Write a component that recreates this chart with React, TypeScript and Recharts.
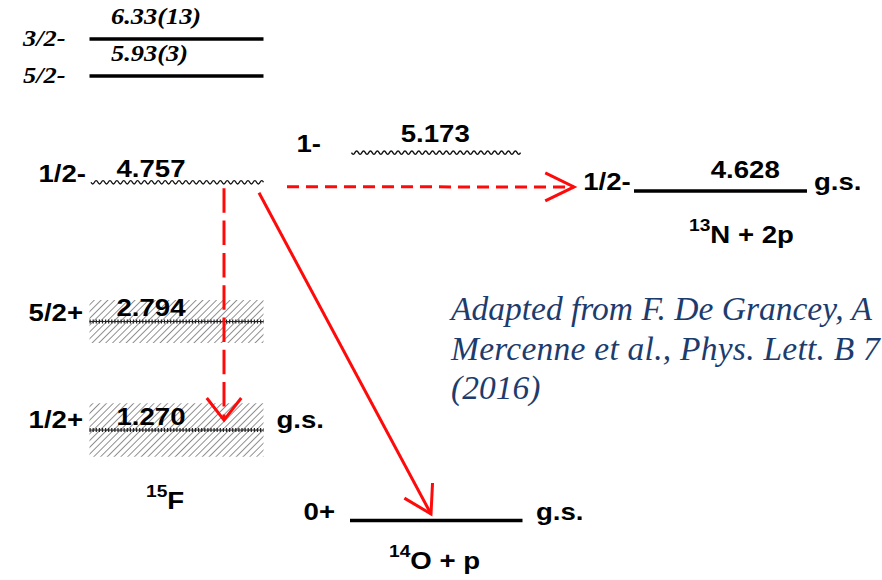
import React from "react";
import { ComposedChart, XAxis, YAxis, ReferenceLine, ReferenceArea, ReferenceDot } from "recharts";

// ---------------- data ----------------
// nuclear systems (columns of the level scheme)
const systemMass = ["15", "14", "13"];
const systemSymbol = ["F", "O", "N"];
const systemSuffix = ["", " + p", " + 2p"];

// levels (energies in MeV relative to the 14O + p threshold)
const levelSystem = [0, 0, 0, 0, 0, 1, 1, 2];
const levelSpin = ["3/2-", "5/2-", "1/2-", "5/2+", "1/2+", "1-", "0+", "1/2-"];
const levelEnergy = [6.33, 5.93, 4.757, 2.794, 1.27, 5.173, 0, 4.628];
const levelEnergyText = ["6.33(13)", "5.93(3)", "4.757", "2.794", "1.270", "5.173", "", "4.628"];
const levelWidth = [0, 0, 0, 0.301, 0.376, 0, 0, 0]; // Γ (MeV), drawn as hatched band E ± Γ
const levelGroundState = [false, false, false, false, true, false, true, true];

// decays from the 1/2- state of 15F
const transFrom = [2, 2, 2];
const transTo = [4, 6, 7];

const citationLines = [
  "Adapted from F. De Grancey, A",
  "Mercenne et al., Phys. Lett. B 7",
  "(2016)",
];

// ---------------- layout / style ----------------
const W = 882;
const H = 580;
const X_DOMAIN: [number, number] = [0, 882];
const Y_DOMAIN: [number, number] = [-0.836, 7.31];
const Y_DOMAIN_TOP: [number, number] = [0.4814, 6.7516];

const colSpan = [
  [89.5, 263.5],
  [350, 522.5],
  [634, 807],
];
const nameLayout = [
  { x: 146, anchor: 4, dy: 79 },
  { x: 389, anchor: 6, dy: 48.5 },
  { x: 689, anchor: 7, dy: 52 },
];

type LL = {
  axis: string;
  kind: string;
  serif?: boolean;
  spinGap: number;
  spinDy: number;
  valX: number;
  valDy: number;
  gsGap?: number;
};
const levelLayout: LL[] = [
  { axis: "top", kind: "solid", serif: true, spinGap: 24, spinDy: 7.5, valX: 21.5, valDy: -15 },
  { axis: "top", kind: "solid", serif: true, spinGap: 24, spinDy: 7, valX: 21.5, valDy: -14.5 },
  { axis: "main", kind: "wavy", spinGap: 3.5, spinDy: 0, valX: 27, valDy: -5 },
  { axis: "main", kind: "dotted", spinGap: 6.5, spinDy: -1, valX: 27, valDy: -6 },
  { axis: "main", kind: "dotted", spinGap: 6.5, spinDy: -2, valX: 27, valDy: -5, gsGap: 13 },
  { axis: "main", kind: "wavy", spinGap: 29, spinDy: -0.5, valX: 50.7, valDy: -10.6 },
  { axis: "main", kind: "solid", spinGap: 15, spinDy: -0.5, valX: 0, valDy: 0, gsGap: 13.5 },
  { axis: "main", kind: "solid", spinGap: 3.3, spinDy: -1, valX: 76.7, valDy: -13.2, gsGap: 7 },
];

const arrowLayout = [
  { x1: 224, x2: 224, dy1: 6.5, dy2: -10, dash: "24.5 7.8", head: 28, angle: 38 },
  { x1: 259, x2: 431, dy1: 11, dy2: -6.5, dash: undefined as string | undefined, head: 31, angle: 31 },
  { x1: 287, x2: 574, dy1: 5, dy2: -4, dash: "12 7", head: 32, angle: 26 },
];

const SANS = "'Liberation Sans', Arial, Helvetica, sans-serif";
const SERIF = "'Liberation Serif', 'Times New Roman', serif";
const RED = "#ff0a0a";

function StretchText(props: {
  x: number;
  y: number;
  anchor?: "start" | "end" | "middle";
  serif?: boolean;
  children: React.ReactNode;
}) {
  const { x, y, anchor = "start", serif, children } = props;
  return (
    <text
      transform={`translate(${x},${y}) scale(${serif ? 1.1 : 1.2},1)`}
      textAnchor={anchor}
      fontFamily={serif ? SERIF : SANS}
      fontWeight="bold"
      fontStyle={serif ? "italic" : "normal"}
      fontSize={serif ? 24 : 23}
      fill="#000"
    >
      {children}
    </text>
  );
}

function wavyPath(x1: number, x2: number, y: number, period = 6.9, amp = 1.7) {
  let d = `M${x1},${y}`;
  let x = x1;
  let up = false;
  while (x + period / 2 <= x2 + 0.01) {
    const cx = x + period / 4;
    const ex = x + period / 2;
    d += ` Q${cx},${y + (up ? -2 * amp : 2 * amp)} ${ex},${y}`;
    x = ex;
    up = !up;
  }
  return d;
}

function LevelShape(p: any) {
  const idx: number = p.idx;
  const { x1, x2, y1 } = p;
  const lay = levelLayout[idx];
  let line: React.ReactNode;
  if (lay.kind === "solid") {
    line = <line x1={x1} x2={x2} y1={y1} y2={y1} stroke="#000" strokeWidth={3.6} />;
  } else if (lay.kind === "wavy") {
    line = (
      <path d={wavyPath(x1 + 1.5, x2, y1 + 0.5)} fill="none" stroke="#111" strokeWidth={1.4} />
    );
  } else {
    line = (
      <g>
        <line x1={x1} x2={x2} y1={y1} y2={y1} stroke="#222" strokeWidth={1} />
        <line x1={x1} x2={x2} y1={y1} y2={y1} stroke="#222" strokeWidth={4} strokeDasharray="1.2 1.9" />
      </g>
    );
  }
  return (
    <g>
      {line}
      <StretchText x={x1 - lay.spinGap} y={y1 + lay.spinDy} anchor="end" serif={lay.serif}>
        {levelSpin[idx]}
      </StretchText>
      {levelEnergyText[idx] ? (
        <StretchText x={x1 + lay.valX} y={y1 + lay.valDy} serif={lay.serif}>
          {levelEnergyText[idx]}
        </StretchText>
      ) : null}
      {levelGroundState[idx] && lay.gsGap !== undefined ? (
        <StretchText x={x2 + lay.gsGap} y={y1 + lay.spinDy}>
          g.s.
        </StretchText>
      ) : null}
    </g>
  );
}

function ArrowShape(p: any) {
  const t: number = p.t;
  const lay = arrowLayout[t];
  const ax = p.x1;
  const ay = p.y1 + lay.dy1;
  const bx = p.x2;
  const by = p.y2 + lay.dy2;
  const len = Math.hypot(bx - ax, by - ay);
  const ux = (ax - bx) / len;
  const uy = (ay - by) / len;
  const a = (lay.angle * Math.PI) / 180;
  const arm = (s: number) => {
    const c = Math.cos(s * a);
    const sn = Math.sin(s * a);
    return [bx + lay.head * (ux * c - uy * sn), by + lay.head * (ux * sn + uy * c)];
  };
  const [l1x, l1y] = arm(1);
  const [l2x, l2y] = arm(-1);
  return (
    <g>
      <line x1={ax} y1={ay} x2={bx} y2={by} stroke={RED} strokeWidth={3} strokeDasharray={lay.dash} />
      <path
        d={`M${l1x},${l1y} L${bx},${by} L${l2x},${l2y}`}
        fill="none"
        stroke={RED}
        strokeWidth={3}
        strokeLinejoin="miter"
      />
    </g>
  );
}

function NameShape(p: any) {
  const s: number = p.s;
  const lay = nameLayout[s];
  const x = p.cx;
  const y = p.cy + lay.dy;
  return (
    <text
      transform={`translate(${x},${y}) scale(1.2,1)`}
      fontFamily={SANS}
      fontWeight="bold"
      fontSize={23}
      fill="#000"
    >
      <tspan fontSize={16} dy={-12}>
        {systemMass[s]}
      </tspan>
      <tspan dy={12}>{systemSymbol[s] + systemSuffix[s]}</tspan>
    </text>
  );
}

export default function App() {
  return (
    <div style={{ width: W, height: H, background: "#fff" }}>
      <style>{"body{margin:0;background:#fff}"}</style>
      <ComposedChart width={W} height={H} margin={{ top: 0, right: 0, bottom: 0, left: 0 }} data={[]}>
        <defs>
          <pattern
            id="hatch"
            width={4.8}
            height={4.8}
            patternUnits="userSpaceOnUse"
            patternTransform="rotate(45)"
          >
            <line x1={0} y1={0} x2={0} y2={4.8} stroke="#222" strokeWidth={1} />
          </pattern>
        </defs>
        <XAxis type="number" dataKey="x" domain={X_DOMAIN} allowDataOverflow hide />
        <YAxis yAxisId="main" type="number" domain={Y_DOMAIN} allowDataOverflow hide />
        <YAxis yAxisId="top" type="number" domain={Y_DOMAIN_TOP} allowDataOverflow hide />

        {levelEnergy.map((e, i) =>
          levelWidth[i] > 0 ? (
            <ReferenceArea
              key={`band-${i}`}
              yAxisId={levelLayout[i].axis}
              x1={colSpan[levelSystem[i]][0]}
              x2={colSpan[levelSystem[i]][1]}
              y1={e - levelWidth[i]}
              y2={e + levelWidth[i]}
              fill="url(#hatch)"
              fillOpacity={1}
              stroke="none"
            />
          ) : null
        )}

        {levelEnergy.map((e, i) => (
          <ReferenceLine
            key={`lvl-${i}`}
            yAxisId={levelLayout[i].axis}
            segment={[
              { x: colSpan[levelSystem[i]][0], y: e },
              { x: colSpan[levelSystem[i]][1], y: e },
            ]}
            shape={(p: any) => <LevelShape {...p} idx={i} />}
          />
        ))}

        {transFrom.map((f, t) => (
          <ReferenceLine
            key={`tr-${t}`}
            yAxisId="main"
            segment={[
              { x: arrowLayout[t].x1, y: levelEnergy[f] },
              { x: arrowLayout[t].x2, y: levelEnergy[transTo[t]] },
            ]}
            shape={(p: any) => <ArrowShape {...p} t={t} />}
          />
        ))}

        {nameLayout.map((n, s) => (
          <ReferenceDot
            key={`name-${s}`}
            yAxisId="main"
            x={n.x}
            y={levelEnergy[n.anchor]}
            r={0}
            shape={(p: any) => <NameShape {...p} s={s} />}
          />
        ))}

        <text fontFamily={SERIF} fontStyle="italic" fontSize={33.5} fill="#1d3c6e">
          <tspan x={451} y={320}>
            {citationLines[0]}
          </tspan>
          <tspan x={451} y={359.5} letterSpacing={0.25}>
            {citationLines[1]}
          </tspan>
          <tspan x={451} y={398.5}>
            {citationLines[2]}
          </tspan>
        </text>
      </ComposedChart>
    </div>
  );
}
